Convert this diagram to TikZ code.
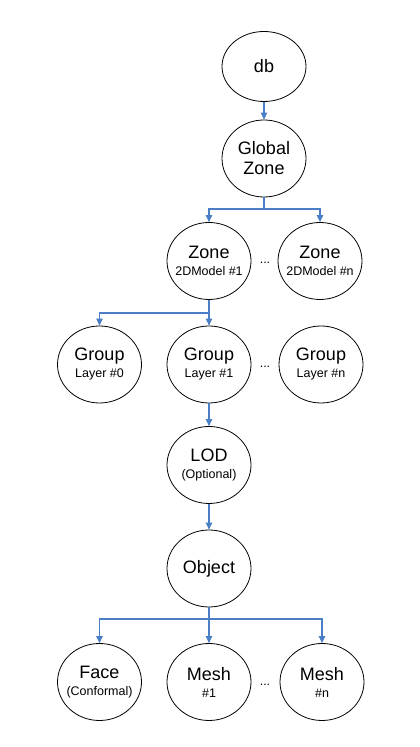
\documentclass[tikz,border=0pt]{standalone}
\usepackage{fontspec}
\setmainfont{Liberation Sans}
\usetikzlibrary{shapes.geometric,arrows.meta}

\definecolor{linkblue}{HTML}{4A7EC7}
\newcommand{\sublabel}[1]{\\[-3pt]{\fontsize{12.5}{14}\selectfont #1}}

\tikzset{
    entity/.style={ellipse, draw, line width=0.8pt, minimum width=84pt, minimum height=77pt,
        inner sep=-10pt, align=center, font=\fontsize{18}{20}\selectfont},
    link/.style={draw=linkblue, line width=1.1pt, -{Triangle[length=7pt,width=6.5pt]}},
    gap/.style={font=\fontsize{12.5}{14}\selectfont}
}

\begin{document}
\begin{tikzpicture}[x=1pt,y=1pt]
    \useasboundingbox (0,0) rectangle (420,747);

    \node[entity, minimum height=70pt] at (264,680.5) (db) {db};
    \node[entity] at (264,588.5) (gz) {Global\\Zone};

    \node[entity] at (209,486) (zone1) {Zone\sublabel{2DModel \#1}};
    \node[entity] at (320,486) (zonen) {Zone\sublabel{2DModel \#n}};
    \node[gap] at (265,484) (zdots) {...};

    \node[entity] at (99.5,382.5) (grp0) {Group\sublabel{Layer \#0}};
    \node[entity] at (209,382.5) (grp1) {Group\sublabel{Layer \#1}};
    \node[entity] at (321,382.5) (grpn) {Group\sublabel{Layer \#n}};
    \node[gap] at (265,380) (gdots) {...};

    \node[entity] at (209,282) (lod) {LOD\sublabel{(Optional)}};
    \node[entity] at (209,178.5) (obj) {Object};

    \node[entity] at (99.5,65) (face) {Face\sublabel{(Conformal)}};
    \node[entity] at (209,65) (mesh1) {Mesh\sublabel{\#1}};
    \node[entity] at (322,65) (meshn) {Mesh\sublabel{\#n}};
    \node[gap] at (265,62) (mdots) {...};

    \coordinate (gzfork) at (264,538);
    \coordinate (zfork) at (209,434);
    \coordinate (objfork) at (209,128);

    \draw[link] (db) -- (gz);
    \draw[link, -] (gz) -- (gzfork);
    \draw[link] (gzfork) -| (zone1.north);
    \draw[link] (gzfork) -| (zonen.north);

    \draw[link] (zone1) -- (grp1);
    \draw[link] (zfork) -| (grp0.north);

    \draw[link] (grp1) -- (lod);
    \draw[link] (lod) -- (obj);

    \draw[link] (obj) -- (mesh1);
    \draw[link] (objfork) -| (face.north);
    \draw[link] (objfork) -| (meshn.north);
\end{tikzpicture}
\end{document}
